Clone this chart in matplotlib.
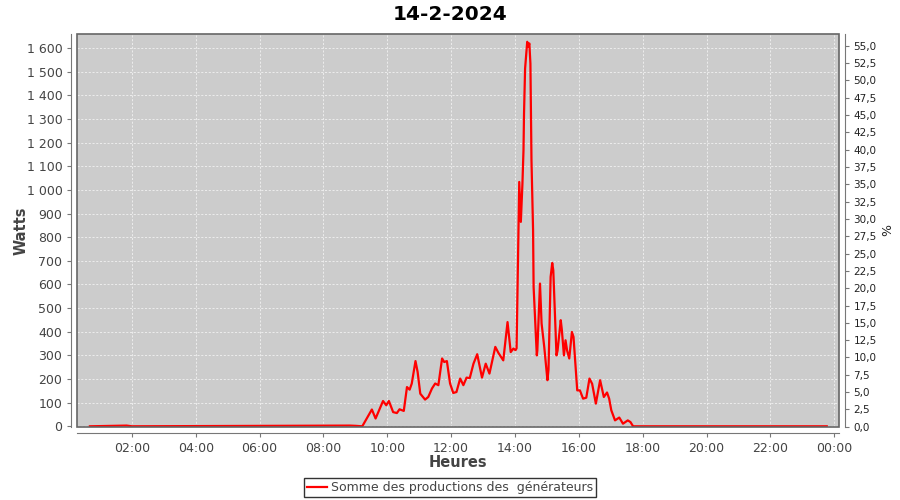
import matplotlib
matplotlib.use("Agg")
import matplotlib.pyplot as plt
from matplotlib.patches import Rectangle
from matplotlib.ticker import FuncFormatter

# values (time of day, watts)
times = ["00:41", "01:50", "02:00", "08:50", "09:00", "09:13",
         "09:31", "09:38", "09:52", "09:58", "10:03", "10:11", "10:18", "10:23",
         "10:31", "10:37", "10:42", "10:46", "10:53", "10:57", "11:02", "11:11",
         "11:17", "11:24", "11:30", "11:36", "11:43", "11:47", "11:52", "11:58",
         "12:04", "12:10", "12:17", "12:23", "12:29", "12:35", "12:42", "12:49",
         "12:58", "13:05", "13:12", "13:23", "13:29", "13:38", "13:46", "13:52",
         "13:57", "14:01", "14:03", "14:08", "14:11", "14:14", "14:16", "14:17",
         "14:19", "14:23", "14:25", "14:27", "14:29", "14:31", "14:34", "14:35",
         "14:41", "14:42", "14:47", "14:50", "14:55", "15:01", "15:03", "15:07",
         "15:10", "15:12", "15:18", "15:20", "15:26", "15:28", "15:32", "15:35",
         "15:38", "15:42", "15:47", "15:50", "15:57", "16:02", "16:08", "16:14",
         "16:20", "16:25", "16:32", "16:40", "16:47", "16:53", "16:57", "17:01",
         "17:08", "17:16", "17:23", "17:32", "17:37", "17:42", "23:46"]
watts = [0, 3, 0, 3, 2, 0,
         71, 33, 107, 89, 107, 60, 56, 72,
         65, 166, 155, 181, 276, 230, 138, 113,
         124, 160, 181, 174, 287, 272, 276, 181,
         141, 145, 202, 174, 206, 204, 265, 305,
         206, 265, 223, 336, 310, 279, 441, 314,
         329, 322, 330, 1034, 865, 1027, 1168, 1324,
         1514, 1627, 1605, 1620, 1535, 1126, 830, 590,
         300, 320, 604, 435, 336, 195, 240, 632,
         691, 660, 300, 320, 449, 410, 300, 364,
         320, 287, 399, 378, 152, 152, 117, 121,
         202, 180, 96, 195, 124, 143, 117, 68,
         25, 37, 11, 25, 18, 0, 0]

hour_ticks = [2, 4, 6, 8, 10, 12, 14, 16, 18, 20, 22, 24]
watt_ticks = list(range(0, 1700, 100))
pct_ticks = [i * 2.5 for i in range(23)]

hours = [int(t[:2]) + int(t[3:]) / 60 for t in times]

txt = "#444444"
fig = plt.figure(figsize=(9, 5), dpi=100)
ax = fig.add_axes([77 / 900, 1 - 427 / 500, 762 / 900, 393 / 500])
ax.set_facecolor("#cccccc")
ax.plot(hours, watts, color="#ff0000", lw=1.6, label="Somme des productions des  générateurs")

ax.set_xlim(0.28, 24.15)
ax.set_ylim(-3, 1660)
ax.set_xticks(hour_ticks)
ax.set_xticklabels(["%02d:00" % (h % 24) for h in hour_ticks])
ax.set_yticks(watt_ticks)
ax.yaxis.set_major_formatter(FuncFormatter(lambda v, p: "{:,}".format(int(v)).replace(",", " ")))
ax.grid(True, color="#f2f2f2", ls=(0, (2.5, 2)), lw=0.6)
ax.set_axisbelow(True)

for s in ["top", "right"]:
    ax.spines[s].set_visible(False)
for s in ["left", "bottom"]:
    ax.spines[s].set_position(("outward", 4))
    ax.spines[s].set_color("#777777")
ax.add_patch(Rectangle((0, 0), 1, 1, transform=ax.transAxes, fill=False,
                       edgecolor="#666666", lw=1.2, clip_on=False, zorder=5))
ax.tick_params(colors="#777777", labelcolor=txt, labelsize=9, length=3)

ax.set_xlabel("Heures", fontsize=10.5, fontweight="bold", color=txt, labelpad=0)
ax.set_ylabel("Watts", fontsize=10.5, fontweight="bold", color=txt)
ax.yaxis.set_label_coords(-0.063, 0.5)

ax2 = ax.twinx()
ax2.set_ylim(-0.04, 56.7)
ax2.set_yticks(pct_ticks)
ax2.yaxis.set_major_formatter(FuncFormatter(lambda v, p: ("%.1f" % v).replace(".", ",")))
for s in ["top", "left", "bottom"]:
    ax2.spines[s].set_visible(False)
ax2.spines["right"].set_position(("outward", 4))
ax2.spines["right"].set_color("#777777")
ax2.tick_params(colors="#777777", labelcolor="#222222", labelsize=7.5, length=3)
ax2.set_ylabel("%", fontsize=9, color="#222222")
ax2.yaxis.set_label_coords(1.055, 0.5)

fig.suptitle("14-2-2024", fontsize=14.5, fontweight="bold", y=0.99)
leg = fig.legend(loc="center", bbox_to_anchor=(0.5, 0.025), fontsize=9, frameon=True,
                 fancybox=False, edgecolor="black", handlelength=1.6, borderpad=0.25,
                 handletextpad=0.3)
leg.get_frame().set_linewidth(1)
for t in leg.get_texts():
    t.set_color(txt)

fig.savefig("out.png", dpi=100)
